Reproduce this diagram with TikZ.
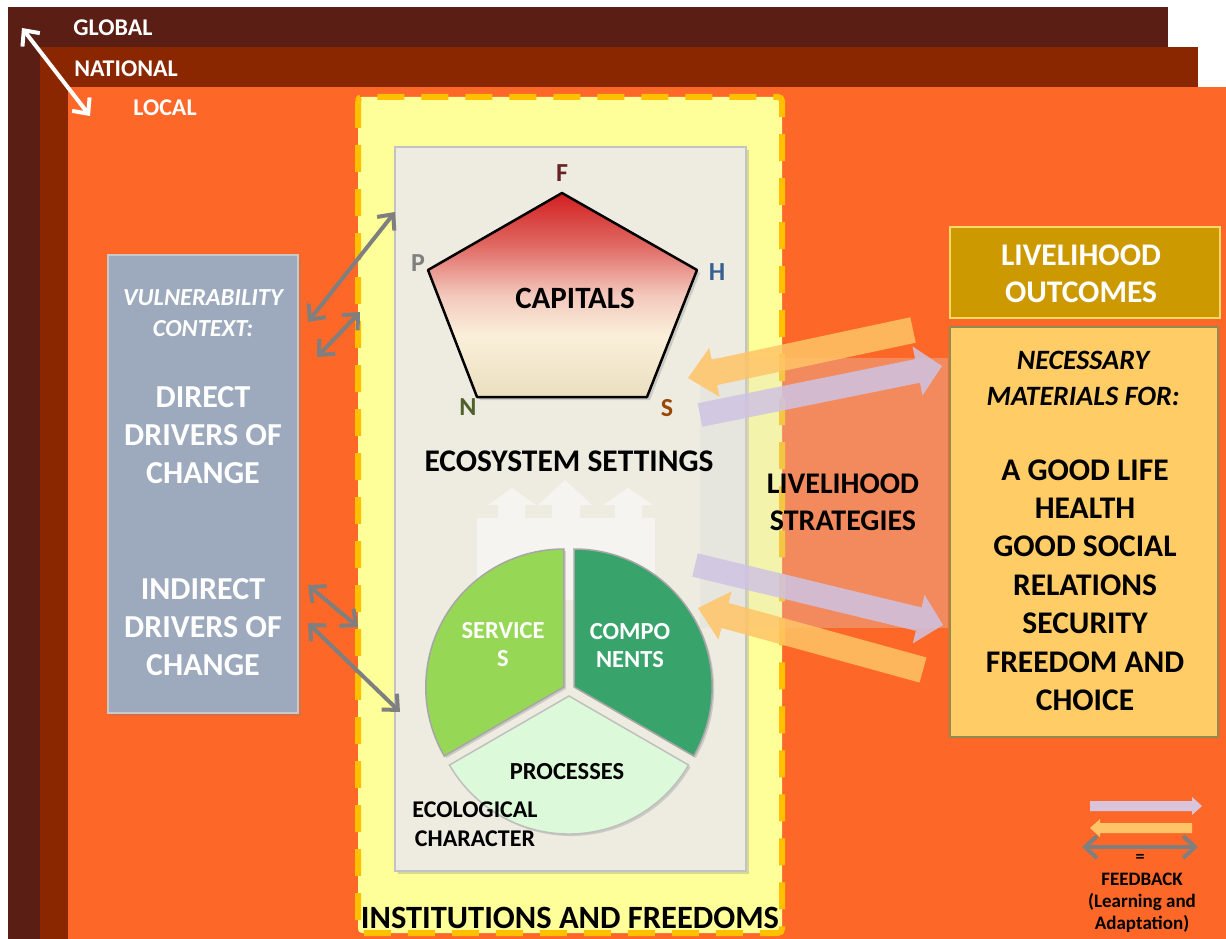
\documentclass[tikz,border=0pt]{standalone}
\usepackage{fontspec}
\setmainfont{Carlito}
\usetikzlibrary{arrows.meta,calc,shadows}
\definecolor{globalC}{HTML}{5A1E15}
\definecolor{nationalC}{HTML}{8A2700}
\definecolor{localC}{HTML}{FD6829}
\definecolor{instC}{HTML}{FFFF99}
\definecolor{dashC}{HTML}{FFC000}
\definecolor{panelC}{HTML}{EEECE1}
\definecolor{panelB}{HTML}{C3C3C3}
\definecolor{vulC}{HTML}{9DA9BC}
\definecolor{vulB}{HTML}{C9C9C9}
\definecolor{headC}{HTML}{CC9900}
\definecolor{headB}{HTML}{FFD966}
\definecolor{needC}{HTML}{FFCC66}
\definecolor{needB}{HTML}{938953}
\definecolor{servC}{HTML}{97D756}
\definecolor{compC}{HTML}{38A46C}
\definecolor{procC}{HTML}{DCFADA}
\definecolor{arrOr}{HTML}{FFC467}
\definecolor{arrPu}{HTML}{CFC3E2}
\definecolor{legPu}{HTML}{D9C5DB}
\definecolor{greyA}{HTML}{7F7F7F}
\definecolor{fC}{HTML}{632523}
\definecolor{pC}{HTML}{7F7F7F}
\definecolor{hC}{HTML}{376092}
\definecolor{nC}{HTML}{4F6228}
\definecolor{sC}{HTML}{984807}
\definecolor{capRed}{HTML}{D21F1F}
\definecolor{capRedB}{HTML}{E06A64}
\definecolor{capPink}{HTML}{F3C8BC}
\definecolor{capCream}{HTML}{FAF0DA}
\definecolor{capBeige}{HTML}{EADFBE}
\definecolor{ghostC}{HTML}{F5F4F0}
\definecolor{texC}{HTML}{D9D9D9}
\pgfdeclareverticalshading{capshade}{100bp}{color(0bp)=(capBeige); color(25bp)=(capBeige); color(40bp)=(capCream); color(50bp)=(capPink); color(62bp)=(capRedB); color(75bp)=(capRed); color(100bp)=(capRed)}
\newcommand\fBig{\bfseries\fontsize{32}{38}\selectfont}
\newcommand\fMid{\bfseries\fontsize{31.5}{37}\selectfont}
\newcommand\fSm{\bfseries\fontsize{24.5}{28}\selectfont}
\newcommand\fatarrow[6]{%
  \coordinate (fa-hb) at ($(#2)!#5!(#1)$);
  \fill[#6] ($(#1)!#3!90:(#2)$) -- ($(fa-hb)!#3!-90:(#1)$) -- ($(fa-hb)!#4!-90:(#1)$) -- (#2)
    -- ($(fa-hb)!#4!90:(#1)$) -- ($(fa-hb)!#3!90:(#1)$) -- ($(#1)!#3!-90:(#2)$) -- cycle;
}
\begin{document}
\begin{tikzpicture}[x=1pt,y=-1pt,
  gar/.style={draw=greyA, line width=4pt, arrows={Straight Barb[length=12pt,width=22pt]-Straight Barb[length=12pt,width=22pt]}},
  war/.style={draw=white, line width=4pt, arrows={Straight Barb[length=12pt,width=22pt]-Straight Barb[length=12pt,width=22pt]}},
  txt/.style={inner sep=0pt, align=center},
  box/.style={inner sep=0pt, line width=2pt},
  lettr/.style={inner sep=0pt, font=\bfseries\fontsize{26}{30}\selectfont},
  bigor/.style={fill=arrOr, fill opacity=0.85},
  bigpu/.style={fill=arrPu, fill opacity=0.85},
]
\useasboundingbox (0,0) rectangle (1226,939);
\fill[white] (0,0) rectangle (1226,939);
% scale levels
\fill[globalC] (8,7) rectangle (1168,939);
\fill[nationalC] (40,47) rectangle (1198,939);
\fill[localC] (68,87) rectangle (1226,939);
\node[txt, text=white, font=\bfseries\fontsize{24}{28}\selectfont] (tglobal) at (113,28) {GLOBAL};
\node[txt, text=white, font=\bfseries\fontsize{24}{28}\selectfont] (tnational) at (126,69) {NATIONAL};
\node[txt, text=white, font=\bfseries\fontsize{24}{28}\selectfont] (tlocal) at (165,108) {LOCAL};
\coordinate (wa) at (22,28);
\coordinate (wb) at (90,116);
\draw[war] (wa) -- (wb);
% institutions
\draw[draw=dashC, fill=instC, line width=6pt, dash pattern=on 27pt off 17pt, rounded corners=4pt] (358,97) rectangle (782,933);
\node[txt, font=\bfseries\fontsize{32.5}{36}\selectfont] (tinst) at (570,918) {INSTITUTIONS AND FREEDOMS};
% panel
\node[box, draw=panelB, line width=2.5pt, fill=panelC, minimum width=351pt, minimum height=724pt,
  drop shadow={shadow xshift=3pt, shadow yshift=-3pt, opacity=0.3}] (panel) at (570.5,509) {};
% livelihood strategies zone (stippled veil)
\fill[texC, opacity=0.3] (700,358) rectangle (948,628);
% pentagon
\coordinate (pF) at (562,193);
\coordinate (pH) at (697,270);
\coordinate (pS) at (647,397);
\coordinate (pN) at (477,397);
\coordinate (pP) at (428,270);
\draw[line width=2.5pt, draw=black, line join=round, shading=capshade,
  drop shadow={shadow xshift=3pt, shadow yshift=-3pt, opacity=0.3}] (pF) -- (pH) -- (pS) -- (pN) -- (pP) -- cycle;
\node[lettr, text=fC] (lF) at (562,173) {F};
\node[lettr, text=pC] (lP) at (418,263) {P};
\node[lettr, text=hC] (lH) at (717,272) {H};
\node[lettr, text=nC] (lN) at (468,407) {N};
\node[lettr, text=sC] (lS) at (667,408) {S};
\node[txt, font=\bfseries\fontsize{31}{34}\selectfont] (tcap) at (575,298) {CAPITALS};
\node[txt, font=\fMid] (teco) at (569,461) {ECOSYSTEM SETTINGS};
% ghost arrows
\fill[ghostC] (477,518) rectangle (655,600);
\fill[ghostC] (498,518) -- (498,505) -- (488,505) -- (512,488) -- (536,505) -- (525,505) -- (525,518) -- cycle;
\fill[ghostC] (552,518) -- (552,505) -- (538,505) -- (565,480) -- (592,505) -- (580,505) -- (580,518) -- cycle;
\fill[ghostC] (615,518) -- (615,505) -- (603,505) -- (628,488) -- (653,505) -- (642,505) -- (642,518) -- cycle;
% pie
\coordinate (pc) at (569,690);
\draw[fill=servC, draw=gray!70, line width=1.5pt, drop shadow={shadow xshift=2pt, shadow yshift=-2pt, opacity=0.3}]
  ($(pc)+(-5.2,-3)$) -- +(150:138) arc[start angle=150, end angle=270, radius=138] -- cycle;
\draw[fill=compC, draw=gray!70, line width=1.5pt, drop shadow={shadow xshift=2pt, shadow yshift=-2pt, opacity=0.3}]
  ($(pc)+(5.2,-3)$) -- +(270:138) arc[start angle=270, end angle=390, radius=138] -- cycle;
\draw[fill=procC, draw=gray!50, line width=1.5pt, drop shadow={shadow xshift=2pt, shadow yshift=-2pt, opacity=0.3}]
  ($(pc)+(0,6)$) -- +(30:138) arc[start angle=30, end angle=150, radius=138] -- cycle;
\node[txt, text=white, font=\fSm] (tserv) at (503,645) {SERVICE\\S};
\node[txt, text=white, font=\fSm] (tcomp) at (630,646) {COMPO\\NENTS};
\node[txt, font=\fSm] (tproc) at (567,772) {PROCESSES};
\node[txt, font=\bfseries\fontsize{24}{29}\selectfont] (tecol) at (475,824) {ECOLOGICAL\\CHARACTER};
% vulnerability
\node[box, draw=vulB, fill=vulC, minimum width=190pt, minimum height=458pt,
  drop shadow={shadow xshift=3pt, shadow yshift=-3pt, opacity=0.3}] (vul) at (203,484) {};
\node[txt, text=white, font=\bfseries\itshape\fontsize{24.5}{31}\selectfont] (tvul) at (203,313) {VULNERABILITY\\CONTEXT:};
\node[txt, text=white, font=\fBig] (tdir) at (203,435) {DIRECT\\DRIVERS OF\\CHANGE};
\node[txt, text=white, font=\fBig] (tind) at (203,627) {INDIRECT\\DRIVERS OF\\CHANGE};
% grey double arrows
\coordinate (ga1) at (308,322); \coordinate (gb1) at (395,212);
\coordinate (ga2) at (317,357); \coordinate (gb2) at (360,312);
\coordinate (ga3) at (308,585); \coordinate (gb3) at (358,627);
\coordinate (ga4) at (308,623); \coordinate (gb4) at (400,712);
\draw[gar] (ga1) -- (gb1);
\draw[gar] (ga2) -- (gb2);
\draw[gar] (ga3) -- (gb3);
\draw[gar] (ga4) -- (gb4);
% livelihood outcomes
\node[box, draw=headB, fill=headC, minimum width=270pt, minimum height=91pt] (head) at (1085,272.5) {};
\node[txt, text=white, font=\bfseries\fontsize{31.5}{37}\selectfont] (thead) at (1081,274) {LIVELIHOOD\\OUTCOMES};
\node[box, draw=needB, line width=2.5pt, fill=needC, minimum width=268pt, minimum height=410pt] (need) at (1084,532) {};
\node[txt, font=\bfseries\itshape\fontsize{28}{36}\selectfont] (tneed) at (1083,378) {NECESSARY\\MATERIALS FOR:};
\node[txt, font=\bfseries\fontsize{31.5}{38.4}\selectfont] (tgood) at (1085,585) {A GOOD LIFE\\HEALTH\\GOOD SOCIAL\\RELATIONS\\SECURITY\\FREEDOM AND\\CHOICE};
\node[txt, font=\bfseries\fontsize{30}{37}\selectfont] (tstrat) at (843,502) {LIVELIHOOD\\STRATEGIES};
% big translucent arrows
\coordinate (o1a) at (913,330); \coordinate (o1b) at (688,378);
\coordinate (p1a) at (700,415); \coordinate (p1b) at (942,366);
\coordinate (p2a) at (695,565); \coordinate (p2b) at (943,625);
\coordinate (o2a) at (923,670); \coordinate (o2b) at (698,608);
\fatarrow{o1a}{o1b}{13pt}{25pt}{27pt}{bigor}
\fatarrow{p1a}{p1b}{12pt}{25pt}{25pt}{bigpu}
\fatarrow{p2a}{p2b}{12pt}{25pt}{25pt}{bigpu}
\fatarrow{o2a}{o2b}{13pt}{25pt}{28pt}{bigor}
% legend
\coordinate (lpa) at (1090,806); \coordinate (lpb) at (1202,806);
\coordinate (loa) at (1192,828); \coordinate (lob) at (1090,828);
\coordinate (lga) at (1082,847); \coordinate (lgb) at (1198,847);
\fatarrow{lpa}{lpb}{5pt}{9pt}{10pt}{fill=legPu}
\fatarrow{loa}{lob}{5pt}{9pt}{10pt}{fill=arrOr}
\draw[gar] (lga) -- (lgb);
\node[txt, font=\bfseries\fontsize{18}{22}\selectfont] (teq) at (1140,858) {=};
\node[txt, font=\bfseries\fontsize{19}{22}\selectfont] (tfeed) at (1142,903) {FEEDBACK\\(Learning and\\Adaptation)};
\end{tikzpicture}
\end{document}
